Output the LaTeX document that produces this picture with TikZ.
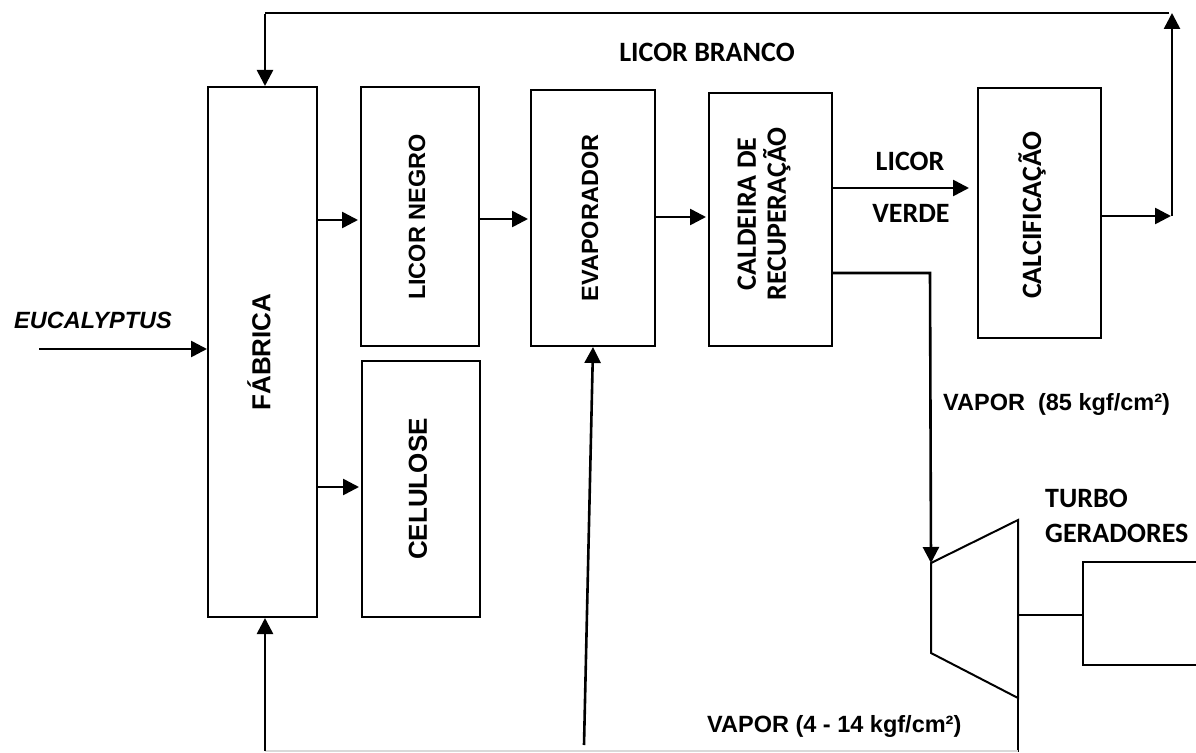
\documentclass[tikz,border=0pt]{standalone}
\usepackage{fontspec}
\setmainfont{Liberation Sans}
\newfontfamily\calfont{Carlito}
\usetikzlibrary{arrows.meta}
\begin{document}
\begin{tikzpicture}[x=1pt,y=-1pt,
  box/.style={draw, line width=2pt, inner sep=0pt},
  arr/.style={line width=2.6pt, -{Triangle[length=16pt,width=16pt]}},
  ln/.style={line width=2.6pt},
  thin/.style={line width=2pt},
  alab/.style={font=\bfseries\fontsize{23.5}{28}\selectfont, inner sep=0pt},
  blab/.style={font=\calfont\bfseries\fontsize{28}{30}\selectfont, inner sep=0pt},
  rlab/.style={alab, rotate=90},
  rclab/.style={blab, rotate=90, align=center}]
\useasboundingbox (0,0) rectangle (1196,752);

% boxes
\node[box, minimum width=109pt, minimum height=530pt] (fab) at (262.5,352) {};
\node[box, minimum width=118pt, minimum height=259pt] (lneg) at (420,216.5) {};
\node[box, minimum width=118pt, minimum height=256pt] (cel) at (421,489) {};
\node[box, minimum width=124pt, minimum height=256pt] (evap) at (593,218) {};
\node[box, minimum width=123pt, minimum height=253pt] (cald) at (770.5,219.5) {};
\node[box, minimum width=123pt, minimum height=250pt] (calc) at (1039.5,213) {};

% box labels
\node[rlab, font=\bfseries\fontsize{26}{30}\selectfont] (fabt) at (259,352) {FÁBRICA};
\node[rlab] (lnegt) at (417,217) {LICOR NEGRO};
\node[rlab, font=\bfseries\fontsize{26}{30}\selectfont] (celt) at (418,489) {CELULOSE};
\node[rlab] (evapt) at (590,218) {EVAPORADOR};
\node[rclab] (caldt) at (764,214) {CALDEIRA DE\\RECUPERAÇÃO};
\node[rclab] (calct) at (1032,215) {CALCIFICAÇÃO};

% free labels
\node[alab, font=\bfseries\itshape\fontsize{23.5}{28}\selectfont, anchor=base] (euc) at (93,328) {EUCALYPTUS};
\node[blab, anchor=base] (lb) at (707,62) {LICOR BRANCO};
\node[blab, anchor=base] (lv1) at (910,170) {LICOR};
\node[blab, anchor=base] (lv2) at (911,222) {VERDE};
\node[blab, anchor=base west] (tg1) at (1045,507) {TURBO};
\node[blab, anchor=base west] (tg2) at (1045,542) {GERADORES};
\node[alab, anchor=base west] (v85) at (943,410) {VAPOR\ \ (85 kgf/cm²)};
\node[alab, anchor=base west] (v14) at (707,732) {VAPOR (4 - 14 kgf/cm²)};

% connectors between boxes
\coordinate (eucin) at (39,349);
\draw[arr] (eucin) -- (fab.west |- eucin);
\draw[arr] (fab.east |- 0,220) -- ([xshift=-2pt]lneg.west |- 0,220);
\draw[arr] (fab.east |- 0,487) -- ([xshift=-2pt]cel.west |- 0,487);
\draw[arr] (lneg.east |- 0,219) -- ([xshift=-2pt]evap.west |- 0,219);
\draw[arr] (evap.east |- 0,217) -- ([xshift=-2pt]cald.west |- 0,217);
\draw[arr] (cald.east |- 0,188) -- ([xshift=-8pt]calc.west |- 0,188);

% white liquor loop
\coordinate (rtop) at (1172,13);
\coordinate (rbot) at (1172,216);
\coordinate (ltop) at (265,13);
\draw[arr] (calc.east |- rbot) -- ([xshift=-1pt]rbot);
\draw[arr] (rbot) -- (rtop);
\draw[ln] ([xshift=-3pt]rtop) -- (ltop);
\draw[arr] ([yshift=-1.3pt]ltop) -- (fab.north -| ltop);

% turbine
\coordinate (ttl) at (931,563);
\coordinate (ttr) at (1018,520);
\coordinate (tbr) at (1018,698);
\coordinate (tbl) at (931,653);
\draw[thin, line join=miter] (ttl) -- (ttr) -- (tbr) -- (tbl) -- cycle;
\coordinate (vbend) at (930,273);
\draw[arr] (cald.east |- vbend) -- (vbend) -- (ttl);

% generator
\coordinate (shaft) at (1018,615);
\coordinate (gl) at (1083,615);
\draw[thin] (shaft) -- (gl);
\draw[thin] (1200,562) -- (1083,562) -- (1083,665) -- (1200,665);

% low pressure steam
\coordinate (tout) at (1018,752);
\draw[thin] (tbr) -- (tout);
\coordinate (bl) at (265,751);
\coordinate (bm) at (584,745);
\draw[gray!30, line width=1.2pt] (bl) -- (1018,751);
\draw[arr] (bl) -- (fab.south -| bl);
\draw[arr] (bm) -- (evap.south);
\end{tikzpicture}
\end{document}
